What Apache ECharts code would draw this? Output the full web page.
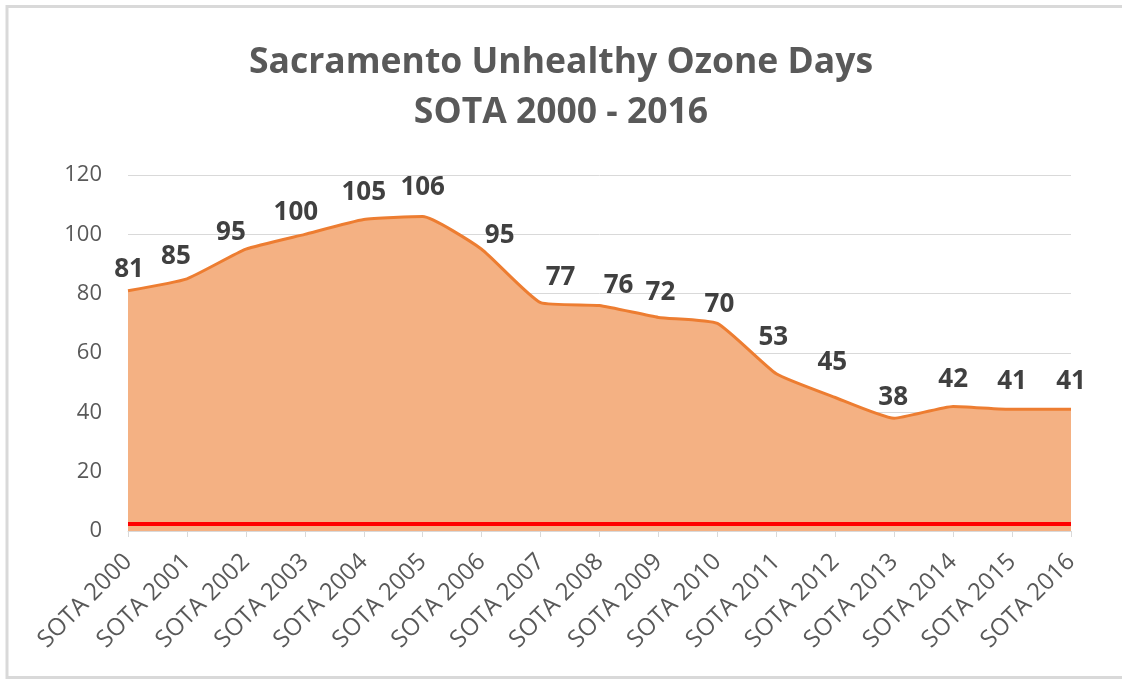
<!DOCTYPE html>
<html>
<head>
<meta charset="utf-8">
<script src="https://cdn.jsdelivr.net/npm/echarts@6/dist/echarts.min.js"></script>
<style>
  html, body { margin: 0; padding: 0; background: #fff; }
  #main { width: 1122px; height: 679px; }
</style>
</head>
<body>
<div id="main"></div>
<script>
const years = ['SOTA 2000', 'SOTA 2001', 'SOTA 2002', 'SOTA 2003', 'SOTA 2004', 'SOTA 2005',
  'SOTA 2006', 'SOTA 2007', 'SOTA 2008', 'SOTA 2009', 'SOTA 2010', 'SOTA 2011',
  'SOTA 2012', 'SOTA 2013', 'SOTA 2014', 'SOTA 2015', 'SOTA 2016']
const ozoneDays = [81, 85, 95, 100, 105, 106, 95, 77, 76, 72, 70, 53, 45, 38, 42, 41, 41]
const yTicks = { min: 0, max: 120, interval: 20 }
const redLineValue = 2.5

// label nudges [dx, dy], like the hand-placed labels in the original
const labelNudgeX = [1, -11, -15, -9, 0, 0, 18, 20, 19, 2, 2, -3, -3, -1, 0, 0, 0]
const labelNudgeY = [1, 0, 5, 0, -5, -7, 8, -3, 2, -3, 3, -14, -13, 1, -5, -6, -6]

const chart = echarts.init(document.getElementById('main'))

const seriesData = ozoneDays.map((v, i) => ({
  value: v,
  label: { offset: [labelNudgeX[i], labelNudgeY[i]] }
}))

chart.setOption({
  animation: false,
  title: {
    text: 'Sacramento Unhealthy Ozone Days\nSOTA 2000 - 2016',
    left: 'center',
    top: 33,
    textStyle: {
      fontFamily: 'Open Sans',
      fontSize: 35.5,
      fontWeight: 'bold',
      color: '#595959',
      lineHeight: 50
    }
  },
  graphic: [{
    type: 'rect',
    shape: { x: 7, y: 6.5, width: 1200, height: 671 },
    style: { fill: 'none', stroke: '#D9D9D9', lineWidth: 3 },
    silent: true
  }],
  grid: { left: 128, right: 51, top: 175, bottom: 148 },
  xAxis: {
    type: 'category',
    data: years,
    boundaryGap: false,
    axisLine: { lineStyle: { color: '#D9D9D9', width: 1 } },
    axisTick: { show: true, alignWithLabel: true, length: 6, lineStyle: { color: '#D9D9D9' } },
    axisLabel: {
      rotate: 45,
      interval: 0,
      margin: 27,
      fontFamily: 'Open Sans',
      fontSize: 24,
      color: '#595959'
    }
  },
  yAxis: {
    type: 'value',
    min: yTicks.min,
    max: yTicks.max,
    interval: yTicks.interval,
    axisLine: { show: false },
    axisTick: { show: false },
    splitLine: { lineStyle: { color: '#D9D9D9', width: 1 } },
    axisLabel: {
      margin: 26,
      fontFamily: 'Open Sans',
      fontSize: 22,
      color: '#595959'
    }
  },
  series: [{
    type: 'line',
    data: seriesData,
    smooth: 0.15,
    symbol: 'circle',
    symbolSize: 0,
    showSymbol: true,
    lineStyle: { color: '#ED7D31', width: 3 },
    itemStyle: { color: '#ED7D31' },
    areaStyle: { color: '#F4B183', opacity: 1 },
    label: {
      show: true,
      position: 'top',
      distance: 9,
      fontFamily: 'Open Sans',
      fontSize: 26,
      fontWeight: 'bold',
      color: '#404040'
    },
    markLine: {
      silent: true,
      symbol: 'none',
      label: { show: false },
      lineStyle: { color: '#FF0000', width: 4, type: 'solid' },
      data: [{ yAxis: redLineValue }]
    }
  }]
})
</script>
</body>
</html>
